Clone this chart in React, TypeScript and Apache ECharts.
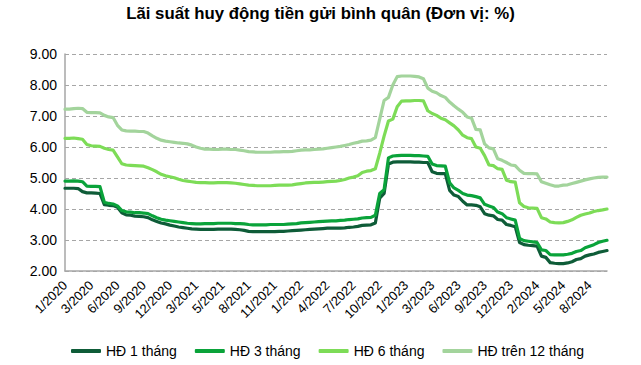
import React, { useEffect, useRef } from "react";
import * as echarts from "echarts";

const tickLabels = [
  "1/2020", "3/2020", "6/2020", "9/2020", "12/2020", "3/2021", "5/2021", "8/2021",
  "11/2021", "1/2022", "4/2022", "7/2022", "10/2022", "1/2023", "3/2023", "6/2023",
  "9/2023", "12/2023", "2/2024", "5/2024", "8/2024",
];

const seriesNames = ["HĐ 1 tháng", "HĐ 3 tháng", "HĐ 6 tháng", "HĐ trên 12 tháng"];
const seriesColors = ["#0E5C38", "#0AA33A", "#7DDC57", "#A3D49C"];

const rate1m = [
  4.67, 4.67, 4.67, 4.66, 4.56, 4.52, 4.52, 4.51, 4.50, 4.14,
  4.12, 4.11, 4.06, 3.88, 3.81, 3.80, 3.77, 3.76, 3.75, 3.72,
  3.65, 3.60, 3.55, 3.52, 3.48, 3.45, 3.42, 3.40, 3.38, 3.36,
  3.35, 3.34, 3.34, 3.34, 3.34, 3.35, 3.35, 3.35, 3.35, 3.34,
  3.33, 3.31, 3.28, 3.27, 3.27, 3.27, 3.27, 3.27, 3.27, 3.28,
  3.28, 3.29, 3.30, 3.31, 3.32, 3.33, 3.34, 3.35, 3.36, 3.37,
  3.38, 3.38, 3.38, 3.38, 3.39, 3.41, 3.42, 3.44, 3.47, 3.48,
  3.49, 3.55, 4.35, 4.50, 5.45, 5.51, 5.52, 5.52, 5.52, 5.52,
  5.51, 5.51, 5.50, 5.50, 5.20, 5.15, 5.14, 5.14, 4.60, 4.45,
  4.40, 4.25, 4.13, 4.13, 4.12, 4.07, 3.85, 3.80, 3.78, 3.66,
  3.64, 3.50, 3.47, 3.43, 2.92, 2.85, 2.83, 2.82, 2.80, 2.48,
  2.44, 2.27, 2.25, 2.24, 2.24, 2.26, 2.30, 2.37, 2.40, 2.48,
  2.52, 2.55, 2.60, 2.63, 2.66,
];

const rate3m = [
  4.90, 4.90, 4.91, 4.90, 4.88, 4.74, 4.73, 4.73, 4.72, 4.22,
  4.18, 4.16, 4.10, 3.95, 3.91, 3.90, 3.88, 3.88, 3.87, 3.85,
  3.78, 3.72, 3.67, 3.64, 3.62, 3.60, 3.58, 3.56, 3.54, 3.53,
  3.52, 3.52, 3.53, 3.53, 3.53, 3.54, 3.54, 3.54, 3.54, 3.53,
  3.53, 3.52, 3.50, 3.49, 3.49, 3.49, 3.49, 3.50, 3.50, 3.50,
  3.50, 3.51, 3.52, 3.53, 3.55, 3.56, 3.57, 3.58, 3.59, 3.60,
  3.61, 3.62, 3.62, 3.63, 3.64, 3.66, 3.67, 3.68, 3.71, 3.72,
  3.73, 3.80, 4.50, 4.62, 5.65, 5.71, 5.72, 5.73, 5.73, 5.73,
  5.72, 5.72, 5.71, 5.70, 5.45, 5.40, 5.39, 5.38, 4.85, 4.68,
  4.60, 4.50, 4.45, 4.43, 4.40, 4.36, 4.15, 4.10, 4.05, 3.90,
  3.85, 3.72, 3.68, 3.64, 3.05, 2.98, 2.96, 2.94, 2.92, 2.68,
  2.66, 2.53, 2.52, 2.52, 2.52, 2.54, 2.57, 2.63, 2.66, 2.75,
  2.80, 2.85, 2.92, 2.96, 2.99,
];

const rate6m = [
  6.28, 6.28, 6.29, 6.27, 6.25, 6.08, 6.04, 6.03, 6.02, 5.96,
  5.92, 5.90, 5.68, 5.46, 5.42, 5.41, 5.40, 5.39, 5.38, 5.33,
  5.27, 5.20, 5.12, 5.07, 5.04, 5.01, 4.96, 4.92, 4.90, 4.88,
  4.86, 4.85, 4.85, 4.84, 4.84, 4.85, 4.85, 4.85, 4.84, 4.83,
  4.81, 4.79, 4.77, 4.76, 4.75, 4.75, 4.75, 4.75, 4.76, 4.77,
  4.77, 4.77, 4.78, 4.80, 4.82, 4.84, 4.85, 4.86, 4.86, 4.87,
  4.88, 4.89, 4.90, 4.92, 4.95, 5.00, 5.03, 5.07, 5.18, 5.22,
  5.24, 5.30, 5.80, 6.35, 6.84, 6.90, 7.30, 7.48, 7.49, 7.49,
  7.50, 7.50, 7.49, 7.17, 7.08, 7.02, 6.93, 6.88, 6.78, 6.68,
  6.55, 6.38, 6.30, 6.27, 6.00, 5.96, 5.72, 5.42, 5.40, 5.30,
  5.28, 4.93, 4.88, 4.87, 4.20, 4.08, 4.04, 4.03, 4.02, 3.72,
  3.68, 3.58, 3.56, 3.55, 3.56, 3.60, 3.65, 3.73, 3.80, 3.84,
  3.87, 3.92, 3.95, 3.97, 4.00,
];

const rate12m = [
  7.22, 7.22, 7.24, 7.25, 7.24, 7.12, 7.11, 7.11, 7.10, 7.02,
  6.97, 6.95, 6.70, 6.55, 6.52, 6.51, 6.51, 6.50, 6.50, 6.45,
  6.36, 6.28, 6.22, 6.19, 6.17, 6.15, 6.13, 6.12, 6.10, 6.06,
  6.00, 5.96, 5.93, 5.93, 5.92, 5.92, 5.93, 5.93, 5.92, 5.92,
  5.90, 5.88, 5.85, 5.84, 5.83, 5.83, 5.83, 5.83, 5.84, 5.84,
  5.85, 5.85, 5.86, 5.88, 5.90, 5.91, 5.91, 5.92, 5.93, 5.94,
  5.96, 5.98, 6.00, 6.02, 6.05, 6.08, 6.12, 6.15, 6.19, 6.20,
  6.22, 6.30, 6.90, 7.50, 7.60, 8.00, 8.27, 8.29, 8.29, 8.29,
  8.28, 8.26, 8.20, 7.90, 7.80, 7.75, 7.66, 7.60, 7.45, 7.33,
  7.22, 7.12, 6.97, 6.93, 6.57, 6.55, 6.10, 5.97, 5.94, 5.62,
  5.57, 5.50, 5.42, 5.40, 5.25, 5.15, 5.14, 5.14, 5.13, 4.88,
  4.83, 4.78, 4.74, 4.74, 4.77, 4.78, 4.82, 4.86, 4.90, 4.94,
  4.97, 5.00, 5.02, 5.03, 5.03,
];

const seriesData = [rate1m, rate3m, rate6m, rate12m];
const pointsPerTick = 6;
const categories = rate1m.map((_, i) =>
  i % pointsPerTick === 0 && tickLabels[i / pointsPerTick] ? tickLabels[i / pointsPerTick] : ""
);

const FONT = "'Liberation Sans', Arial, Helvetica, sans-serif";

export default function App() {
  const ref = useRef<HTMLDivElement>(null);
  useEffect(() => {
    if (!ref.current) return;
    const chart = echarts.init(ref.current, undefined, { renderer: "svg" });
    chart.setOption({
      animation: false,
      backgroundColor: "#ffffff",
      title: {
        text: "Lãi suất huy động tiền gửi bình quân (Đơn vị: %)",
        left: "center",
        top: 0,
        textStyle: { fontFamily: FONT, fontSize: 16.8, fontWeight: "bold", color: "#000000" },
      },
      legend: {
        data: seriesNames,
        left: 71,
        top: 344,
        padding: 0,
        icon: "roundRect",
        itemWidth: 30,
        itemHeight: 4,
        itemGap: 18,
        textStyle: { fontFamily: FONT, fontSize: 14, color: "#000000" },
      },
      grid: { left: 65, right: 34, top: 54, bottom: 94, containLabel: false },
      xAxis: {
        type: "category",
        data: categories,
        boundaryGap: false,
        axisLine: { show: true, lineStyle: { color: "#A6A6A6", width: 1.5 } },
        axisTick: { show: false },
        axisLabel: {
          interval: pointsPerTick - 1,
          rotate: 45,
          margin: 12,
          fontFamily: FONT,
          fontSize: 13,
          color: "#000000",
        },
        splitLine: { show: false },
      },
      yAxis: {
        type: "value",
        min: 2,
        max: 9,
        interval: 1,
        axisLine: { show: true, lineStyle: { color: "#A6A6A6", width: 1.5 } },
        axisTick: { show: false },
        axisLabel: {
          margin: 8,
          fontFamily: FONT,
          fontSize: 14,
          color: "#000000",
          formatter: (v: number) => v.toFixed(2),
        },
        splitLine: { show: true, lineStyle: { color: "#A6A6A6", type: [4, 3], width: 1 } },
      },
      series: seriesNames.map((name, k) => ({
        name,
        type: "line",
        data: seriesData[k],
        symbol: "none",
        smooth: false,
        color: seriesColors[k],
        lineStyle: { width: 3.2, color: seriesColors[k], cap: "round", join: "round" },
        z: 2 + k,
      })),
    });
    return () => chart.dispose();
  }, []);
  return (
    <div
      ref={ref}
      style={{ position: "fixed", left: 0, top: 0, width: 641, height: 365 }}
    />
  );
}
